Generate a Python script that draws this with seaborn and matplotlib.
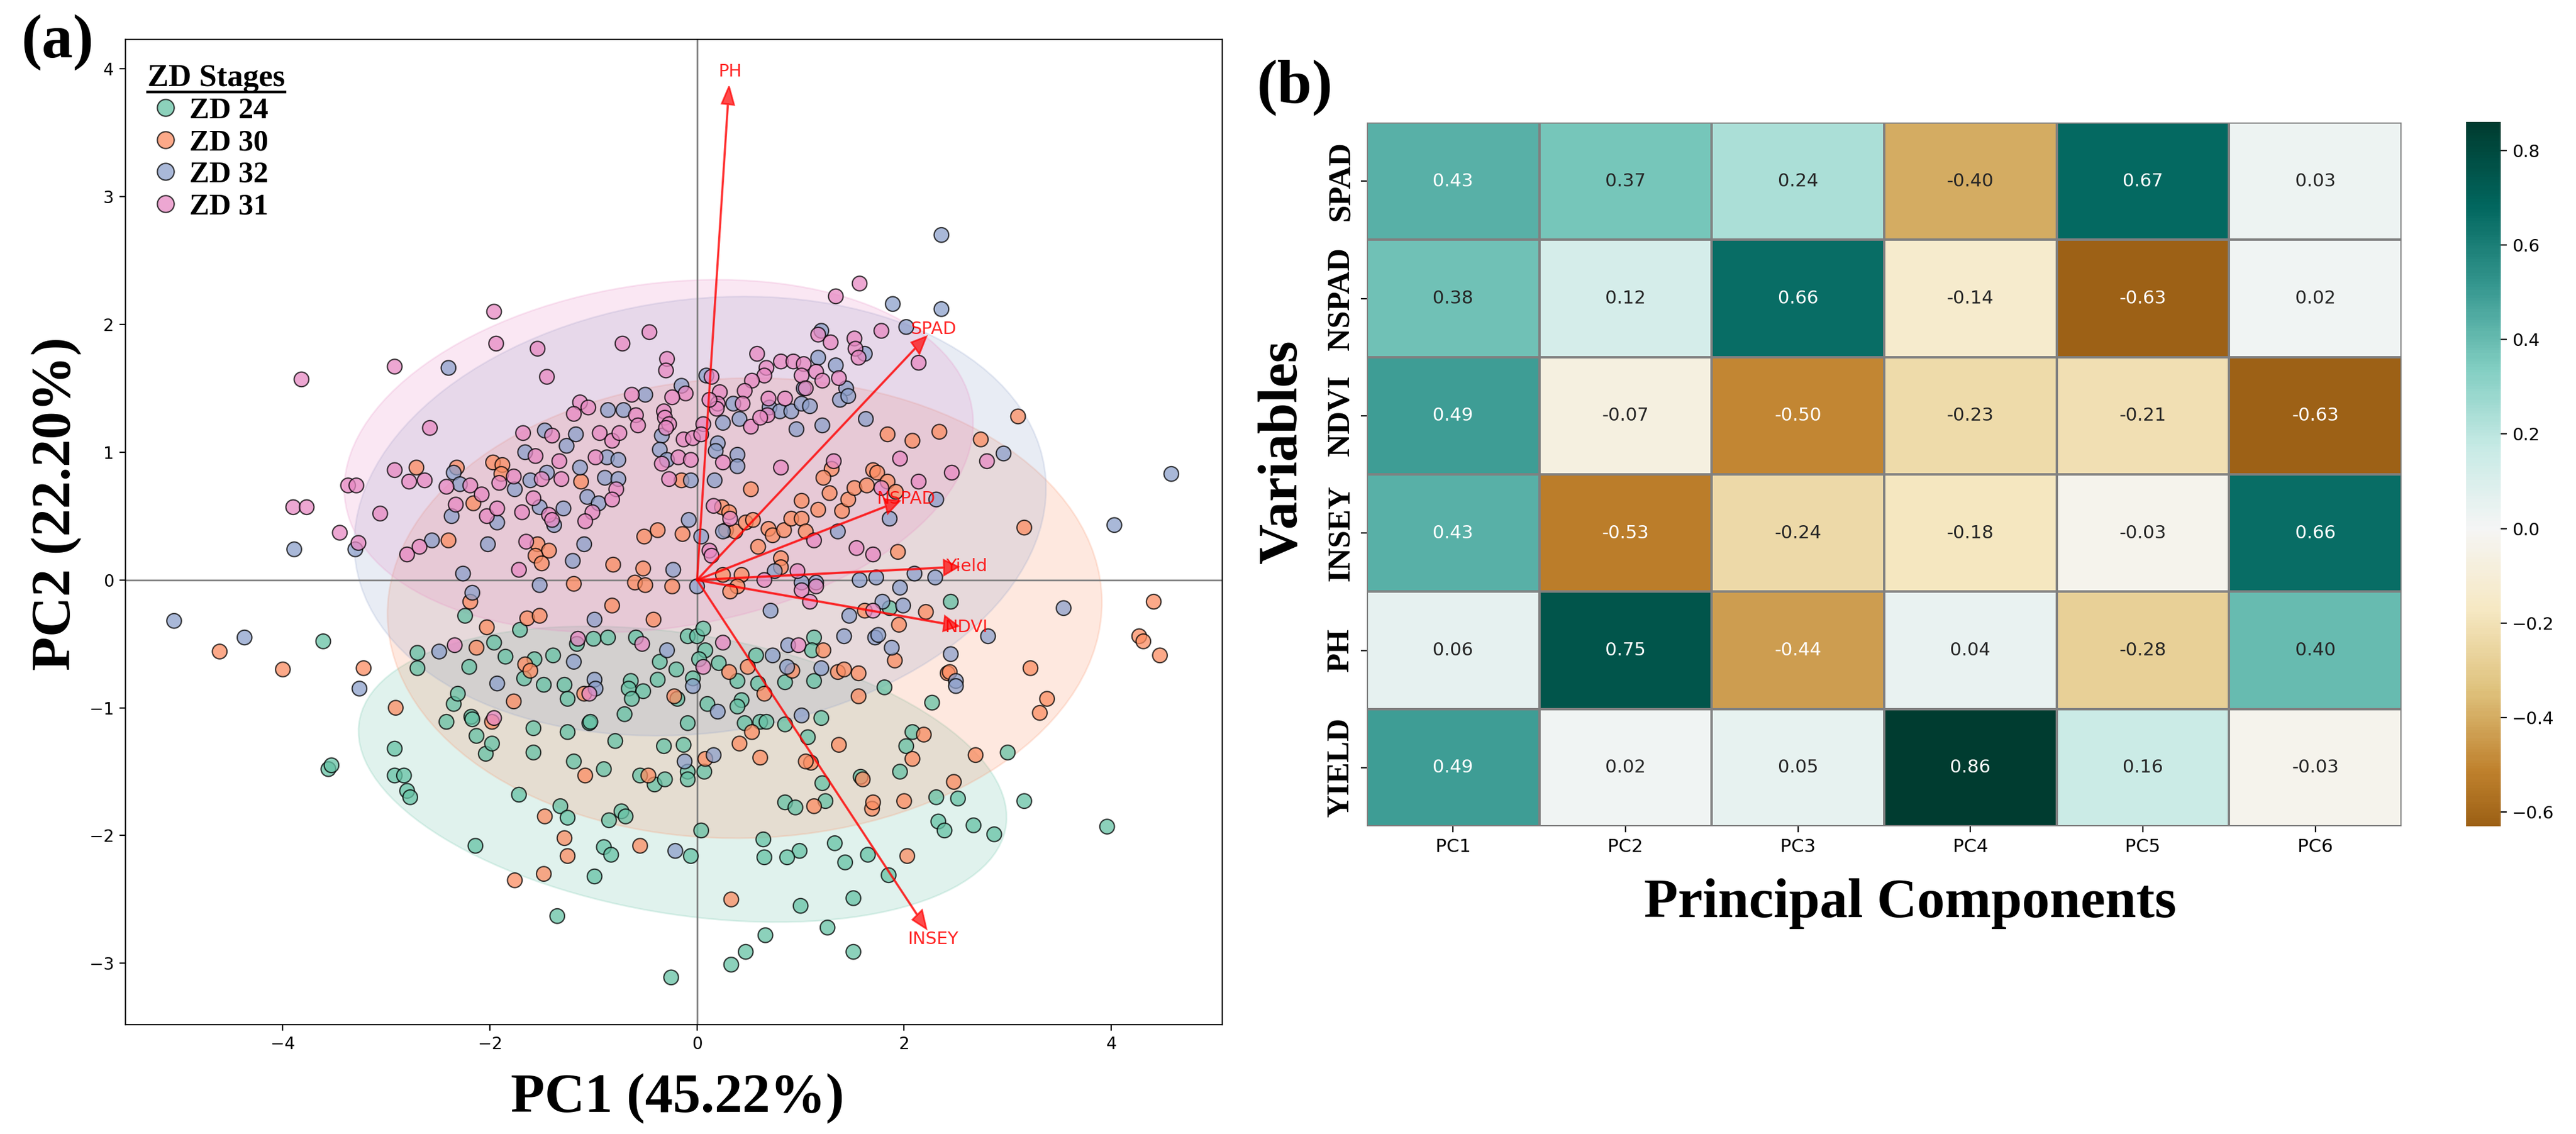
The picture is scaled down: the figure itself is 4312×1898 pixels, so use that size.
import numpy as np
import pandas as pd
import seaborn as sns
import matplotlib.pyplot as plt
from matplotlib.patches import Ellipse
from matplotlib.lines import Line2D

# ---- (a) PCA scores ----
stages = ["ZD 24", "ZD 30", "ZD 32", "ZD 31"]
stage_colors = ["#66c2a5", "#fc8d62", "#8da0cb", "#e78ac3"]

zd24_pts = [
    (-3.61, -0.48), (-2.92, -1.32), (-3.56, -1.48), (-3.53, -1.45), (-2.92, -1.53), (-2.83, -1.53),
    (-2.80, -1.65), (-2.77, -1.70), (-2.14, -2.08), (-1.72, -1.68), (-1.32, -1.77), (-1.25, -1.86),
    (-0.99, -2.32), (-1.35, -2.63), (-0.90, -2.09), (-0.83, -2.15), (-0.06, -2.16), (-0.25, -3.11),
    (-0.85, -1.88), (-0.73, -1.81), (-0.69, -1.85), (-1.19, -1.42), (-0.90, -1.48), (-0.55, -1.53),
    (-0.41, -1.60), (-0.31, -1.56), (-0.32, -1.30), (-0.13, -1.29), (-0.09, -1.50), (-0.09, -1.56),
    (-0.79, -1.26), (-1.25, -1.19), (-1.58, -1.35), (-1.58, -1.16), (-2.04, -1.36), (-1.98, -1.28),
    (-2.13, -1.22), (-2.42, -1.11), (-2.18, -1.07), (-2.17, -1.09), (-2.35, -0.97), (-2.31, -0.89),
    (-1.04, -1.12), (-1.03, -1.11), (-0.70, -1.05), (-0.09, -1.12), (-2.70, -0.57), (-2.70, -0.69),
    (-2.20, -0.68), (-2.24, -0.28), (-1.96, -0.49), (-1.85, -0.60), (-1.71, -0.39), (-1.67, -0.77),
    (-1.57, -0.62), (-1.39, -0.59), (-1.48, -0.82), (-1.28, -0.82), (-1.25, -0.93), (-1.16, -0.50),
    (-1.00, -0.46), (-0.86, -0.45), (-0.59, -0.45), (-0.64, -0.79), (-0.66, -0.85), (-0.52, -0.87),
    (-0.63, -0.93), (-0.38, -0.78), (-0.36, -0.64), (-0.20, -0.70), (-0.09, -0.44), (-0.04, -0.77),
    (-0.19, -0.93),
    (2.45, -0.17), (1.81, -0.84), (2.27, -0.96), (3.00, -1.35), (2.08, -1.19), (2.02, -1.30),
    (1.96, -1.50), (2.52, -1.71), (2.31, -1.70), (3.16, -1.73), (2.33, -1.89), (2.39, -1.96),
    (2.67, -1.92), (2.87, -1.99), (3.96, -1.93), (1.85, -2.31), (1.65, -2.15), (1.51, -2.49),
    (1.33, -2.06), (1.43, -2.21), (0.99, -2.12), (0.87, -2.17), (0.65, -2.17), (0.64, -2.03),
    (1.00, -2.55), (1.26, -2.72), (1.51, -2.91), (0.66, -2.78), (0.47, -2.91), (0.33, -3.01),
    (0.04, -1.96), (1.24, -1.73), (0.85, -1.74), (0.95, -1.78), (1.21, -1.59), (1.58, -1.54),
    (1.07, -1.23), (1.20, -1.08), (0.85, -1.13), (0.46, -1.12), (0.61, -1.11), (0.67, -1.11),
    (0.07, -1.50), (0.10, -0.97), (0.43, -0.94), (0.39, -0.99), (0.00, -0.44), (0.06, -0.38),
    (0.08, -0.55), (0.02, -0.62), (0.21, -0.65), (0.39, -0.79), (0.57, -0.59), (0.59, -0.81),
    (0.85, -0.80), (1.13, -0.45), (1.11, -0.55), (1.13, -0.79), (1.86, -0.22),
]

zd30_pts = [
    (-2.71, 0.88), (-2.40, 0.31), (-1.54, 0.28), (-1.43, 0.23), (-1.56, 0.19), (-1.50, 0.13),
    (-0.81, 0.12), (-0.52, 0.09), (-0.51, 0.34), (-0.38, 0.39), (-0.14, 0.36), (-2.32, 0.88),
    (-2.16, 0.60), (-1.97, 0.92), (-1.88, 0.90), (-1.89, 0.83), (-1.12, 0.77), (-0.15, 0.78),
    (-4.61, -0.56), (-4.00, -0.70), (-3.22, -0.69), (-2.91, -1.00), (-1.47, -1.85), (-1.28, -2.02),
    (-1.25, -2.16), (-1.48, -2.30), (-1.76, -2.35), (-0.55, -2.08), (-1.08, -1.53), (-0.47, -1.53),
    (-1.98, -1.11), (-1.77, -0.95), (-2.13, -0.53), (-2.03, -0.37), (-2.19, -0.17), (-1.64, -0.30),
    (-1.52, -0.28), (-1.66, -0.66), (-1.61, -0.71), (-0.82, -0.20), (-0.42, -0.31), (-1.19, -0.03),
    (-0.60, -0.02), (-0.50, -0.04), (-0.24, -0.05), (-1.09, -0.89), (-0.22, -0.91),
    (0.52, 0.71), (1.30, 0.87), (1.22, 0.80), (1.28, 0.68), (1.01, 0.62), (1.17, 0.55),
    (1.40, 0.54), (1.46, 0.63), (1.52, 0.72), (1.64, 0.74), (1.70, 0.86), (1.74, 0.84),
    (1.84, 0.77), (1.92, 0.69), (2.08, 1.09), (1.84, 1.14), (2.34, 1.16), (2.74, 1.10),
    (3.10, 1.28), (3.16, 0.41), (1.94, 0.22), (0.24, 0.57), (0.31, 0.53), (0.28, 0.39),
    (0.37, 0.38), (0.47, 0.45), (0.54, 0.47), (0.59, 0.26), (0.69, 0.40), (0.73, 0.35),
    (0.84, 0.39), (0.91, 0.48), (1.01, 0.48), (1.05, 0.38), (0.81, 0.17), (0.81, 0.10),
    (0.43, 0.04), (0.25, 0.04),
    (4.41, -0.17), (4.27, -0.44), (4.31, -0.48), (4.47, -0.59), (3.22, -0.69), (3.38, -0.93),
    (3.31, -1.04), (2.42, -0.73), (2.44, -0.72), (2.69, -1.37), (2.19, -1.21), (2.08, -1.40),
    (2.48, -1.58), (2.03, -2.16), (0.33, -2.50), (1.69, -1.79), (1.70, -1.74), (2.00, -1.73),
    (1.13, -1.77), (1.60, -1.56), (1.10, -1.43), (1.05, -1.42), (1.37, -1.29), (0.61, -1.39),
    (0.41, -1.28), (0.53, -1.19), (0.08, -1.40), (0.31, -0.72), (0.49, -0.68), (0.65, -0.89),
    (0.92, -0.71), (1.22, -0.55), (1.36, -0.72), (1.42, -0.70), (1.56, -0.73), (1.56, -0.91),
    (1.62, -0.24), (1.91, -0.63), (1.95, -0.35), (2.21, -0.25), (0.39, -0.05), (0.32, -0.09),
]

zd32_pts = [
    (-2.40, 1.66), (-3.30, 0.24), (-3.89, 0.24), (-2.56, 0.31), (-2.02, 0.28), (-1.20, 0.15),
    (-2.26, 0.05), (-1.09, 0.28), (-0.08, 0.47), (-0.23, 0.08), (-2.35, 0.84), (-2.29, 0.75),
    (-2.37, 0.50), (-1.93, 0.45), (-1.76, 0.71), (-1.66, 1.00), (-1.47, 1.17), (-1.61, 0.78),
    (-1.45, 0.84), (-1.52, 0.57), (-1.38, 0.43), (-1.29, 0.56), (-1.26, 1.05), (-1.17, 1.14),
    (-1.13, 0.88), (-1.06, 0.65), (-0.86, 1.33), (-0.87, 0.96), (-0.89, 0.80), (-0.76, 0.94),
    (-0.76, 0.79), (-0.95, 0.60), (-0.71, 1.33), (-0.50, 1.45), (-0.34, 1.13), (-0.15, 1.52),
    (-0.36, 1.02), (-0.29, 0.94), (-0.06, 0.78),
    (-5.05, -0.32), (-4.37, -0.45), (-3.26, -0.85), (-0.21, -2.12), (-0.12, -1.42), (-2.49, -0.56),
    (-2.17, -0.10), (-1.52, -0.04), (-1.19, -0.64), (-1.93, -0.81), (-0.99, -0.31), (-0.99, -0.78),
    (-0.98, -0.85), (-0.29, -0.55), (-0.04, -0.83),
    (2.36, 2.70), (1.89, 2.16), (2.36, 2.12), (2.02, 1.98), (1.20, 1.95), (1.62, 1.77),
    (1.17, 1.74), (1.34, 1.68), (0.09, 1.60), (1.03, 1.50), (1.44, 1.50), (1.38, 1.41),
    (1.46, 1.44), (0.35, 1.38), (0.70, 1.35), (0.80, 1.32), (0.91, 1.32), (1.01, 1.38),
    (1.09, 1.36), (1.21, 1.21), (1.63, 1.26), (0.96, 1.18), (0.41, 1.26), (0.25, 1.23),
    (0.20, 1.07), (0.18, 1.01), (0.39, 0.98), (0.39, 0.89), (0.17, 0.78), (2.96, 0.99),
    (4.58, 0.83), (4.03, 0.43), (1.86, 0.48), (2.31, 0.63), (1.57, 0.00), (1.73, 0.02),
    (2.10, 0.05), (2.30, 0.02), (1.36, 0.38), (0.75, 0.07), (0.04, 0.34), (0.25, 0.38),
    (1.01, -0.02), (1.15, -0.02), (0.00, -0.05),
    (3.54, -0.22), (2.81, -0.44), (2.45, -0.58), (2.50, -0.79), (2.50, -0.83), (0.16, -1.37),
    (1.01, -1.06), (0.20, -1.03), (1.20, -0.69), (1.42, -0.44), (1.47, -0.28), (1.72, -0.45),
    (1.75, -0.43), (1.79, -0.17), (1.88, -0.53), (1.96, -0.06), (1.99, -0.20), (0.71, -0.24),
    (0.73, -0.59), (0.88, -0.51), (0.87, -0.68),
]

zd31_pts = [
    (-1.96, 2.10), (-1.94, 1.85), (-1.54, 1.81), (-0.72, 1.85), (-0.46, 1.94), (-0.29, 1.73),
    (-0.30, 1.64), (-2.92, 1.67), (-3.82, 1.57), (-1.45, 1.59), (-2.58, 1.19), (-2.92, 0.86),
    (-2.78, 0.77), (-2.63, 0.78), (-3.37, 0.74), (-3.29, 0.74), (-3.90, 0.57), (-3.77, 0.57),
    (-3.06, 0.52), (-3.45, 0.37), (-3.27, 0.29), (-2.80, 0.20), (-2.68, 0.26), (-1.65, 0.30),
    (-1.72, 0.08), (-2.42, 0.73), (-2.19, 0.74), (-2.08, 0.67), (-2.33, 0.59), (-2.03, 0.50),
    (-1.93, 0.56), (-1.77, 0.81), (-1.91, 0.76), (-1.69, 0.53), (-1.68, 1.15), (-1.56, 0.97),
    (-1.40, 1.13), (-1.50, 0.79), (-1.58, 0.64), (-1.43, 0.51), (-1.40, 0.47), (-1.33, 0.93),
    (-1.31, 0.79), (-1.13, 1.39), (-1.05, 1.35), (-1.19, 1.30), (-0.98, 0.96), (-0.94, 1.15),
    (-0.82, 1.09), (-0.75, 1.15), (-0.78, 0.71), (-0.82, 0.63), (-1.01, 0.53), (-1.08, 0.46),
    (-0.63, 1.45), (-0.59, 1.29), (-0.57, 1.21), (-0.32, 1.32), (-0.31, 1.27), (-0.27, 1.22),
    (-0.30, 1.19), (-0.11, 1.46), (-0.24, 1.43), (-0.13, 1.10), (-0.04, 1.11), (-0.34, 0.91),
    (-0.18, 0.96), (-0.06, 0.94), (-0.27, 0.79),
    (-2.34, -0.51), (-1.96, -1.08), (-1.15, -0.46), (-1.04, -0.89), (-0.53, -0.50),
    (1.57, 2.32), (1.34, 2.22), (1.78, 1.95), (2.14, 1.70), (0.58, 1.77), (1.17, 1.92),
    (1.29, 1.86), (1.52, 1.89), (1.53, 1.81), (1.56, 1.74), (0.81, 1.71), (0.93, 1.71),
    (1.03, 1.69), (0.67, 1.66), (0.65, 1.60), (1.01, 1.60), (1.15, 1.63), (1.37, 1.58),
    (0.14, 1.59), (0.53, 1.56), (0.46, 1.48), (1.21, 1.56), (1.05, 1.50), (0.22, 1.47),
    (0.20, 1.38), (0.44, 1.38), (0.69, 1.42), (0.85, 1.42), (0.68, 1.29), (0.52, 1.20),
    (0.61, 1.27), (0.19, 1.34), (0.12, 1.41), (0.06, 1.22), (0.04, 1.14), (0.25, 0.92),
    (0.81, 0.88), (1.32, 0.93), (1.78, 0.72), (1.96, 0.95), (2.14, 0.77), (2.46, 0.84),
    (2.80, 0.93), (1.54, 0.25), (1.70, 0.20), (0.12, 0.23), (0.16, 0.58), (0.32, 0.48),
    (0.97, 0.07), (1.13, 0.31), (0.65, 0.00), (0.14, 0.19),
    (0.06, -0.68), (0.25, -0.49), (0.98, -0.51), (1.70, -0.24), (1.01, -0.08), (1.09, -0.17),
    (1.15, -0.05),
]

# confidence ellipses per stage (centre, width, height, angle)
ell_cx = [-0.14, 0.46, 0.03, -0.37]
ell_cy = [-1.52, -0.22, 0.50, 0.97]
ell_w = [6.3, 6.9, 6.7, 6.1]
ell_h = [2.2, 3.6, 3.4, 2.7]
ell_angle = [-7, 1, 5, 6]

# ---- (b) loadings ----
variables = ["SPAD", "NSPAD", "NDVI", "INSEY", "PH", "YIELD"]
components = ["PC1", "PC2", "PC3", "PC4", "PC5", "PC6"]
loadings = [
    [0.43, 0.37, 0.24, -0.40, 0.67, 0.03],
    [0.38, 0.12, 0.66, -0.14, -0.63, 0.02],
    [0.49, -0.07, -0.50, -0.23, -0.21, -0.63],
    [0.43, -0.53, -0.24, -0.18, -0.03, 0.66],
    [0.06, 0.75, -0.44, 0.04, -0.28, 0.40],
    [0.49, 0.02, 0.05, 0.86, 0.16, -0.03],
]
arrow_labels = ["SPAD", "NSPAD", "NDVI", "INSEY", "PH", "Yield"]
arrow_scale = 5.15

serif = "Liberation Serif"

rows = []
for stage, pts in zip(stages, [zd24_pts, zd30_pts, zd32_pts, zd31_pts]):
    for x, y in pts:
        rows.append((x, y, stage))
scores = pd.DataFrame(rows, columns=["PC1", "PC2", "Stage"])
load_df = pd.DataFrame(loadings, index=variables, columns=components)

fig = plt.figure(figsize=(21.56, 9.49), dpi=200)
ax1 = fig.add_axes([0.0487, 0.0964, 0.4257, 0.8688])
ax2 = fig.add_axes([0.5306, 0.2713, 0.4017, 0.6207])
cax = fig.add_axes([0.9573, 0.2713, 0.01345, 0.6212])

# ellipses under the points
for i, col in enumerate(stage_colors):
    ax1.add_patch(Ellipse((ell_cx[i], ell_cy[i]), ell_w[i], ell_h[i], angle=ell_angle[i],
                          facecolor=col, edgecolor=col, alpha=0.2, lw=1, zorder=1))

sns.scatterplot(data=scores, x="PC1", y="PC2", hue="Stage", hue_order=stages,
                palette=stage_colors, s=78, alpha=0.75, edgecolor="k", linewidth=0.8,
                ax=ax1, zorder=3)

ax1.axhline(0, color="gray", lw=1, zorder=2)
ax1.axvline(0, color="gray", lw=1, zorder=2)

# loading arrows from PC1 / PC2 columns
for lab, (dx, dy) in zip(arrow_labels, load_df[["PC1", "PC2"]].values):
    ax1.arrow(0, 0, dx * arrow_scale, dy * arrow_scale, color="red", alpha=0.7,
              width=0.006, head_width=0.12, head_length=0.14, length_includes_head=True, zorder=4)
    ax1.text(dx * arrow_scale * 1.03, dy * arrow_scale * 1.03, lab, color="red", alpha=0.85,
             fontsize=10.5, ha="center", va="center", zorder=5)

ax1.set_xlim(-5.52, 5.07)
ax1.set_ylim(-3.48, 4.23)
ax1.tick_params(labelsize=10)
ax1.set_xlabel("PC1 (45.22%)", family=serif, fontweight="bold", fontsize=33.5)
ax1.set_ylabel("PC2 (22.20%)", family=serif, fontweight="bold", fontsize=33.5)
ax1.xaxis.set_label_coords(0.5035, -0.049)
ax1.yaxis.set_label_coords(-0.0397, 0.529)

handles, labels = ax1.get_legend_handles_labels()
leg = ax1.legend(handles, labels, title="ZD Stages", loc="upper left",
                 bbox_to_anchor=(0.02, 0.975), borderaxespad=0, borderpad=0,
                 frameon=False, alignment="left", handlelength=1.2, handletextpad=0.2,
                 labelspacing=0.15, markerscale=1.15,
                 prop={"family": serif, "weight": "bold", "size": 18},
                 title_fontproperties={"family": serif, "weight": "bold", "size": 19})

# heatmap
sns.heatmap(load_df, annot=True, fmt=".2f", cmap="BrBG", center=0, linewidths=0.8,
            linecolor="gray", ax=ax2, cbar_ax=cax, annot_kws={"size": 11})
ax2.set_yticklabels(variables, rotation=90, va="center", family=serif,
                    fontweight="bold", fontsize=19)
ax2.set_xticklabels(components, rotation=0, fontsize=11)
ax2.set_xlabel("Principal Components", family=serif, fontweight="bold", fontsize=33.5)
ax2.set_ylabel("Variables", family=serif, fontweight="bold", fontsize=33.5)
ax2.xaxis.set_label_coords(0.525, -0.074)
ax2.yaxis.set_label_coords(-0.0566, 0.532)
cax.tick_params(labelsize=10.5)

fig.text(0.0081, 0.9874, "(a)", ha="left", va="top", family=serif, fontweight="bold", fontsize=37.5)
fig.text(0.4877, 0.9473, "(b)", ha="left", va="top", family=serif, fontweight="bold", fontsize=37.5)

# underline the legend title
fig.canvas.draw()
bb = leg.get_title().get_window_extent()
inv = fig.transFigure.inverted()
(x0, y0), (x1, _) = inv.transform([(bb.x0, bb.y0 + 1), (bb.x1, bb.y0 + 1)])
fig.add_artist(Line2D([x0, x1], [y0, y0], color="black", lw=1.6, transform=fig.transFigure))

fig.savefig("out.png", dpi=200)
